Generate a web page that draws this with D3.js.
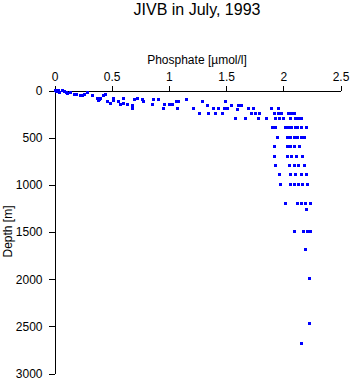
<!DOCTYPE html>
<html><head><meta charset="utf-8">
<script src="https://cdn.jsdelivr.net/npm/d3@7"></script>
<style>body{margin:0;background:#fff}svg{display:block;font-family:"Liberation Sans",Arial,sans-serif}</style>
</head><body>
<script>
const title = "JIVB in July, 1993";
const xLabel = "Phosphate [\u00b5mol/l]";
const yLabel = "Depth [m]";
const xTicks = [0, 0.5, 1, 1.5, 2, 2.5];
const yTicks = [0, 500, 1000, 1500, 2000, 2500, 3000];
const phosphate = [
 0.01,0.03,0.04,0.07,0.09,0.02,0.05,0.11,0.12,0.14,0.18,0.20,0.23,0.25,0.27,0.29,0.34,0.38,0.40,0.39,0.43,0.45,0.41,
 0.47,0.52,0.52,0.49,0.56,0.61,0.61,0.64,0.58,0.69,0.69,0.70,0.73,0.77,0.78,0.86,0.87,0.91,
 0.96,0.97,1.01,1.04,1.07,1.08,1.09,1.16,1.22,1.27,
 1.30,1.34,1.35,1.39,1.41,1.44,1.47,1.49,1.52,1.50,1.55,1.61,1.64,1.60,1.59,1.67,
 1.70,1.74,1.73,1.76,1.80,1.79,1.86,1.90,1.96,1.93,1.96,1.99,1.94,1.97,2.01,2.05,2.08,2.10,2.07,2.11,2.14,2.16,
 1.91,1.94,2.02,2.05,2.08,2.11,2.13,2.16,2.21,
 1.95,2.04,2.07,2.10,2.13,2.16,2.19,
 1.93,2.04,2.07,2.10,2.15,
 1.93,2.04,2.08,2.12,2.17,
 1.94,2.06,2.10,2.14,2.19,
 1.97,2.07,2.11,2.16,2.21,
 1.98,2.07,2.10,2.14,2.17,2.22,
 2.02,2.13,2.16,2.20,2.24,
 2.21,
 2.10,2.18,2.22,2.24,
 2.20,2.23,2.23,2.16
];
const depth = [
 0,0,10,10,20,20,30,30,40,30,50,50,60,60,50,30,60,85,105,115,60,50,85,
 125,85,115,140,125,85,140,150,150,160,200,105,85,105,125,150,105,105,
 200,150,150,150,125,200,125,105,200,250,
 125,160,250,200,250,200,250,200,200,125,160,160,160,210,305,305,
 200,200,250,250,250,305,305,200,200,250,250,250,305,305,305,250,250,250,305,305,305,305,
 400,400,400,400,400,400,400,400,400,
 500,500,500,500,500,500,500,
 600,600,600,600,600,
 700,700,700,700,700,
 800,800,800,800,800,
 900,900,900,900,900,
 1000,1000,1000,1000,1000,1000,
 1200,1200,1200,1200,1200,
 1270,
 1500,1500,1500,1500,
 1690,2000,2480,2690
];

const W = 350, H = 384;
const m = {left: 54, right: 10, top: 90, bottom: 11};
const svg = d3.select("body").append("svg").attr("width", W).attr("height", H);
const x = d3.scaleLinear().domain([0, 2.5]).range([m.left, W - m.right]);
const y = d3.scaleLinear().domain([0, 3000]).range([m.top, H - m.bottom]);
const font = '"Liberation Sans",Arial,sans-serif';

const xAxis = svg.append("g").attr("transform", `translate(0.5,${m.top + 0.5})`)
  .call(d3.axisTop(x).tickValues(xTicks).tickFormat(d3.format("")).tickSize(5).tickPadding(5).tickSizeOuter(0));
const yAxis = svg.append("g").attr("transform", `translate(${m.left + 0.5},0.5)`)
  .call(d3.axisLeft(y).tickValues(yTicks).tickFormat(d3.format("")).tickSize(6).tickPadding(6).tickSizeOuter(0));
[xAxis, yAxis].forEach(g => {
  g.selectAll("path,line").attr("stroke", "#000").attr("stroke-width", 1).attr("shape-rendering", "crispEdges");
  g.selectAll("text").attr("fill", "#000").style("font-size", "12px").style("font-family", font);
});

const pts = phosphate.map((p, i) => [p, depth[i]]);
svg.append("g").selectAll("rect").data(pts).join("rect")
  .attr("x", d => Math.round(x(d[0]) - 1.5)).attr("y", d => Math.round(y(d[1]) - 1.5))
  .attr("width", 3).attr("height", 3).attr("fill", "#0000ff");

svg.append("text").attr("x", (x(0) + x(2.5)) / 2).attr("y", 15).attr("text-anchor", "middle")
  .style("font-size", "16px").text(title);
svg.append("text").attr("x", (x(0) + x(2.5)) / 2).attr("y", 64).attr("text-anchor", "middle")
  .style("font-size", "12px").text(xLabel);
svg.append("text").attr("transform", `translate(12,${(y(0) + y(3000)) / 2}) rotate(-90)`).attr("text-anchor", "middle")
  .style("font-size", "12px").text(yLabel);
</script>
</body></html>
